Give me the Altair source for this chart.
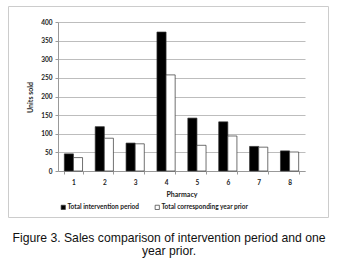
import altair as alt
import pandas as pd

pharmacies = ["1", "2", "3", "4", "5", "6", "7", "8"]
intervention = [46, 119, 75, 373, 142, 132, 66, 54]
prior = [36, 88, 73, 258, 69, 94, 64, 51]
series_names = ["Total intervention period", "Total corresponding year prior"]
caption = ["Figure 3. Sales comparison of intervention period and one", "year prior."]

rows = []
for p, a, b in zip(pharmacies, intervention, prior):
    rows.append({"Pharmacy": p, "Series": series_names[0], "Units": a})
    rows.append({"Pharmacy": p, "Series": series_names[1], "Units": b})
df = pd.DataFrame(rows)

FONT = "Lato"

# The view is the outer framed box; the plot occupies an inner pixel range of it.
PLOT_X = [50, 297]
PLOT_Y = [165, 16]

bars = alt.Chart(df).mark_bar(stroke="#333333", strokeWidth=0.7).encode(
    x=alt.X("Pharmacy:N", sort=pharmacies,
            scale=alt.Scale(range=PLOT_X, paddingInner=0.41, paddingOuter=0.205),
            axis=alt.Axis(title="Pharmacy", labelAngle=0, tickBand="extent",
                          offset=-46,
                          tickSize=3, tickColor="#999999", domainColor="#999999",
                          labelPadding=5, labelFont=FONT, labelFontSize=6.5,
                          labelFontWeight="bold", labelColor="#222222",
                          titleFont=FONT, titleFontSize=7, titleFontWeight="bold",
                          titleColor="#222222", titleBaseline="middle", titleY=23)),
    xOffset=alt.XOffset("Series:N", sort=series_names),
    y=alt.Y("Units:Q", scale=alt.Scale(domain=[0, 400], range=PLOT_Y, nice=False),
            axis=alt.Axis(title="Units sold", values=list(range(0, 401, 50)),
                          offset=-50,
                          tickSize=3, tickColor="#999999", domainColor="#999999",
                          gridColor="#bdbdbd", gridWidth=1,
                          labelFont=FONT, labelFontSize=6.5, labelFontWeight="bold",
                          labelColor="#222222", labelPadding=3,
                          titleFont=FONT, titleFontSize=7, titleFontWeight="bold",
                          titleColor="#222222", titleX=-28, titleY=91,
                          titleAlign="center", titleBaseline="middle", titleAngle=-90)),
    fill=alt.Fill("Series:N", sort=series_names,
                  scale=alt.Scale(domain=series_names, range=["#000000", "#ffffff"]),
                  legend=alt.Legend(title=None, orient="none", direction="horizontal",
                                    legendX=52, legendY=198, symbolType="square",
                                    symbolSize=18, symbolStrokeColor="#333333",
                                    symbolStrokeWidth=0.7, labelFont=FONT,
                                    labelFontSize=6.5, labelFontWeight="bold",
                                    labelColor="#222222", labelOffset=1,
                                    columnPadding=14)),
)

one = pd.DataFrame({"k": [0]})
cap = alt.Chart(one).mark_text(
    font="Liberation Sans", fontSize=12.2, color="#111111",
    align="center", baseline="middle", lineHeight=13
).encode(x=alt.value(161), y=alt.value(232), text=alt.value(caption))

chart = alt.layer(bars, cap).properties(
    width=320, height=211,
    autosize=alt.AutoSizeParams(type="none"),
    padding={"left": 8, "top": 6, "right": 19, "bottom": 46},
).configure(background="white").configure_view(stroke="#cccccc", strokeWidth=1)

chart.save("out.html", embed_options={"renderer": "svg", "actions": False})
